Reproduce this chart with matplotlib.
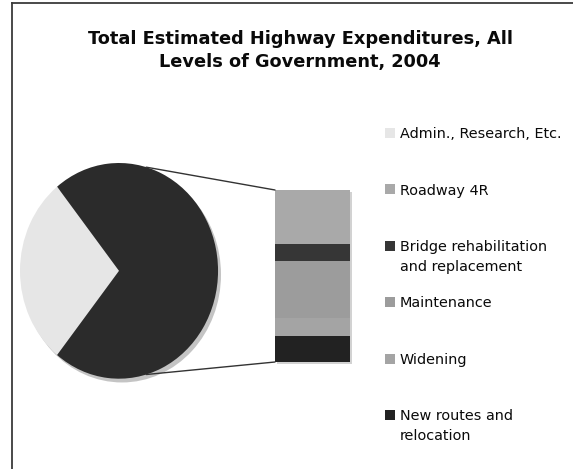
import matplotlib
matplotlib.use("Agg")
import matplotlib.pyplot as plt
from matplotlib.patches import ConnectionPatch, Ellipse, Rectangle
from matplotlib.lines import Line2D
import numpy as np

# ---- data (percent of total) ----
pie_labels = ["Admin., Research, Etc.", "Other"]
admin_share = 28.5
bar_labels = ["Roadway 4R", "Bridge rehabilitation\nand replacement", "Maintenance",
              "Widening", "New routes and\nrelocation"]
bar_values = [22.4, 7.1, 23.7, 7.5, 10.8]
title = "Total Estimated Highway Expenditures, All\nLevels of Government, 2004"

# ---- styles ----
admin_color = "#e6e6e6"
other_color = "#2b2b2b"
bar_colors = ["#a9a9a9", "#363636", "#9c9c9c", "#a4a4a4", "#222222"]

W, H = 573, 469
fig = plt.figure(figsize=(W / 100, H / 100), dpi=100)
fig.patch.set_facecolor("white")

def box(x0, y0, x1, y1):
    return [x0 / W, 1 - y1 / H, (x1 - x0) / W, (y1 - y0) / H]

# frame
fig.add_artist(Line2D([12 / W, 12 / W], [0, 1 - 3 / H], transform=fig.transFigure,
                      color="#3a3a3a", lw=1.3))
fig.add_artist(Line2D([12 / W, 1], [1 - 3 / H, 1 - 3 / H], transform=fig.transFigure,
                      color="#3a3a3a", lw=1.3))

fig.text(300 / W, 1 - 50.5 / H, title, ha="center", va="center", fontsize=12.8,
         fontweight="bold", family="DejaVu Sans", linespacing=1.38, color="#0a0a0a")

# pie
ax1 = fig.add_axes(box(20, 163, 222, 383))
ax1.add_patch(Ellipse((0.03, -0.035), 2, 2, color="#c4c4c4", lw=0, zorder=0))
pie_vals = [admin_share, sum(bar_values)]
start = 180 - admin_share * 360 / 100 / 2
wedges, _ = ax1.pie(pie_vals, colors=[admin_color, other_color], startangle=start,
                    radius=1, wedgeprops=dict(linewidth=0))
ax1.set_aspect("auto")
ax1.set_xlim(-1.0, 1.04)
ax1.set_ylim(-1.04, 1.0)
ax1.axis("off")

# stacked bar
ax2 = fig.add_axes(box(275, 190, 350, 362))
total = sum(bar_values)
ax2.add_patch(Rectangle((-0.47, -0.012 * total), 1.0, total, color="#d2d2d2", lw=0,
                        zorder=0, clip_on=False))
bottom = total
for v, c in zip(bar_values, bar_colors):
    bottom -= v
    ax2.bar(0, v, bottom=bottom, width=1, color=c, linewidth=0, zorder=2)
ax2.set_xlim(-0.5, 0.5)
ax2.set_ylim(0, total)
ax2.axis("off")

# connectors
ang = np.deg2rad(74)
con = ConnectionPatch(xyA=(-0.5, total), coordsA=ax2.transData,
                      xyB=(np.cos(ang), np.sin(ang)), coordsB=ax1.transData,
                      color="#333333", lw=1.0)
fig.add_artist(con)
con = ConnectionPatch(xyA=(-0.5, 0), coordsA=ax2.transData,
                      xyB=(np.cos(ang), -np.sin(ang)), coordsB=ax1.transData,
                      color="#333333", lw=1.0)
fig.add_artist(con)

# legend (evenly spaced slots, first line aligned with the marker)
labels = [pie_labels[0]] + bar_labels
colors = [admin_color] + bar_colors
y0, step = 133, 56.4
for i, (lab, col) in enumerate(zip(labels, colors)):
    yc = y0 + i * step
    fig.add_artist(Rectangle((385 / W, 1 - (yc + 5) / H), 10 / W, 10 / H,
                             transform=fig.transFigure, color=col, lw=0))
    fig.text(400 / W, 1 - (yc - 5.8) / H, lab, ha="left", va="top", fontsize=10.4,
             family="DejaVu Sans", linespacing=1.5, color="#0a0a0a")

fig.savefig("out.png", dpi=100, facecolor="white")
